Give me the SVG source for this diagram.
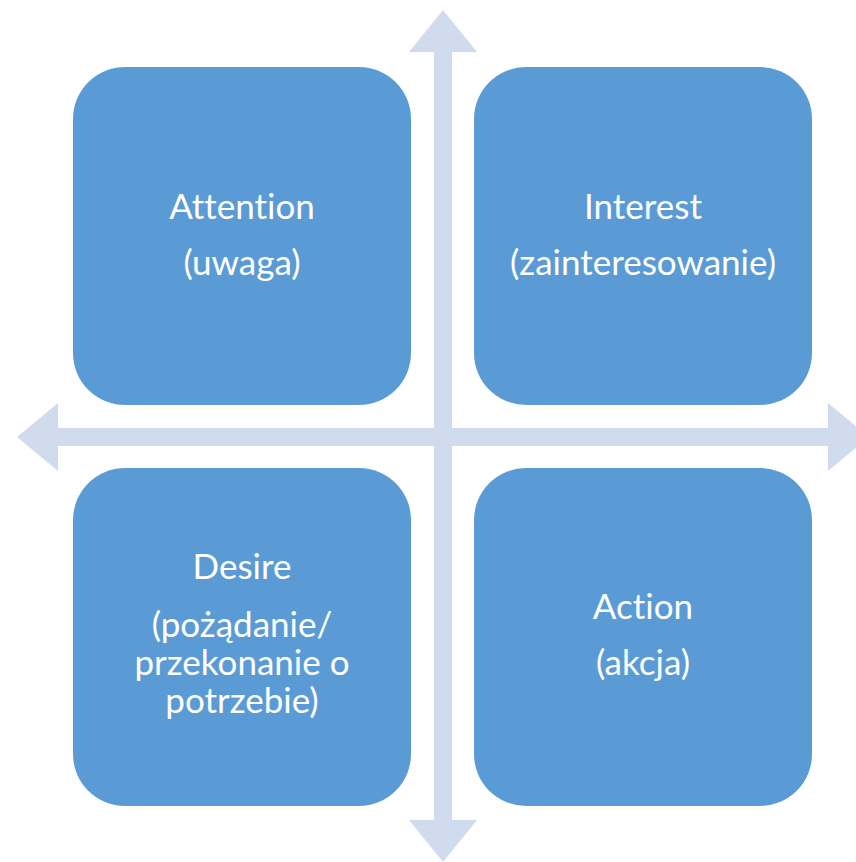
<svg xmlns="http://www.w3.org/2000/svg" width="856" height="862" viewBox="0 0 856 862">
  <style>
    .box { fill: #5B9BD5; }
    .axis { fill: #D0DBEE; }
    .lbl { fill: #FFFFFF; font-family: Lato, "Open Sans", "Liberation Sans", sans-serif; font-size: 35px; text-anchor: middle; font-variant-ligatures: none; }
  </style>
  <rect width="856" height="862" fill="#FFFFFF"/>
  <g id="connectors">
    <polygon class="axis" points="443,10 477,52 452,52 452,820 477,820 443,862 409,820 434,820 434,52 409,52"/>
    <polygon class="axis" points="17,437 58,403 58,428 828,428 828,403 869,437 828,471 828,446 58,446 58,471"/>
  </g>
  <g id="attention">
    <rect class="box" x="73" y="67" width="338" height="338" rx="52" ry="52"/>
    <text class="lbl" x="242" y="219">Attention</text>
    <text class="lbl" x="242" y="275">(uwaga)</text>
  </g>
  <g id="interest">
    <rect class="box" x="474" y="67" width="338" height="338" rx="52" ry="52"/>
    <text class="lbl" x="643" y="219">Interest</text>
    <text class="lbl" x="643" y="275">(zainteresowanie)</text>
  </g>
  <g id="desire">
    <rect class="box" x="73" y="468" width="338" height="338" rx="52" ry="52"/>
    <text class="lbl" x="242" y="579">Desire</text>
    <text class="lbl" x="242" y="637">(pożądanie/</text>
    <text class="lbl" x="242" y="675">przekonanie o</text>
    <text class="lbl" x="242" y="713">potrzebie)</text>
  </g>
  <g id="action">
    <rect class="box" x="474" y="468" width="338" height="338" rx="52" ry="52"/>
    <text class="lbl" x="643" y="619">Action</text>
    <text class="lbl" x="643" y="675">(akcja)</text>
  </g>
</svg>
